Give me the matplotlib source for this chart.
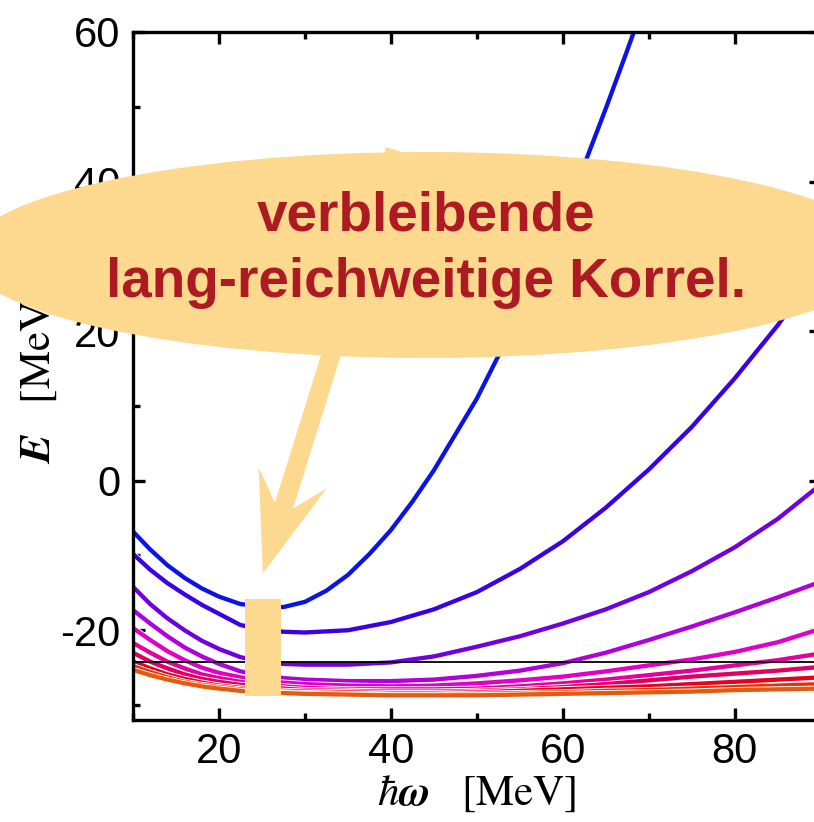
import numpy as np
import matplotlib
matplotlib.use('Agg')
import matplotlib.pyplot as plt
import matplotlib.patheffects as pe
from matplotlib.patches import Ellipse, Rectangle, FancyArrow
from matplotlib.ticker import MultipleLocator

plt.rcParams['font.family'] = ['Liberation Sans', 'DejaVu Sans']
plt.rcParams['mathtext.fontset'] = 'stix'
plt.rcParams['axes.unicode_minus'] = False

# hbar*omega grid (MeV)
hw = [10, 12, 14, 16, 18, 20, 22.5, 25, 27.5, 30, 35, 40, 45, 50, 55, 60, 65, 70, 75, 80, 85, 90]
# finer grid for the steep blue curve
hw1 = [10, 12, 14, 16, 18, 20, 22.5, 25, 27.5, 30, 32.5, 35, 37.5, 40, 42.5, 45, 47.5, 50,
       52.5, 55, 57.5, 60, 62.5, 65, 67.5, 70]

# energies (MeV), one list per curve, from top (blue) to bottom (orange)
E1 = [-6.8, -9.2, -11.3, -13.0, -14.4, -15.5, -16.5, -16.8, -16.9, -16.2, -14.7, -12.6, -9.8, -6.6,
      -2.8, 1.4, 6.2, 11.0, 16.7, 22.4, 28.8, 35.3, 42.3, 49.8, 57.6, 65.6]
E2 = [-9.8, -11.9, -13.7, -15.2, -16.6, -17.8, -19.3, -19.9, -20.2, -20.3, -20.0, -18.9, -17.2, -14.9, -11.8, -8.1, -3.6, 1.5, 7.2, 13.7, 20.8, 28.8]
E3 = [-14.2, -16.5, -18.4, -20.0, -21.4, -22.5, -23.6, -24.2, -24.5, -24.6, -24.6, -24.3, -23.5, -22.2, -20.8, -19.1, -17.2, -14.9, -12.1, -8.9, -5.1, -0.5]
E4 = [-17.3, -19.1, -20.8, -22.3, -23.5, -24.5, -25.5, -26.0, -26.4, -26.6, -26.8, -26.8, -26.6, -26.1, -25.4, -24.4, -23.0, -21.3, -19.5, -17.6, -15.6, -13.5]
E5 = [-19.7, -21.3, -22.8, -24.0, -25.0, -25.7, -26.3, -26.7, -27.0, -27.2, -27.4, -27.5, -27.4, -27.1, -26.7, -26.2, -25.5, -24.7, -23.9, -22.9, -21.6, -19.8]
E6 = [-21.7, -23.0, -24.2, -25.1, -25.9, -26.4, -26.9, -27.3, -27.5, -27.7, -27.9, -27.9, -27.9, -27.8, -27.5, -27.1, -26.6, -26.0, -25.4, -24.7, -24.0, -23.1]
E7 = [-23.0, -24.2, -25.1, -25.9, -26.5, -26.9, -27.3, -27.6, -27.8, -28.0, -28.1, -28.2, -28.2, -28.1, -27.9, -27.6, -27.2, -26.7, -26.2, -25.8, -25.4, -24.9]
E8 = [-24.2, -25.1, -25.9, -26.5, -27.0, -27.4, -27.7, -27.9, -28.1, -28.2, -28.3, -28.4, -28.4, -28.3, -28.1, -27.9, -27.7, -27.5, -27.2, -26.9, -26.6, -26.3]
E9 = [-24.8, -25.6, -26.3, -26.9, -27.3, -27.6, -27.9, -28.1, -28.3, -28.4, -28.5, -28.6, -28.6, -28.5, -28.4, -28.3, -28.1, -28.0, -27.8, -27.6, -27.4, -27.2]
E10 = [-25.3, -26.0, -26.6, -27.1, -27.5, -27.8, -28.1, -28.3, -28.4, -28.5, -28.6, -28.7, -28.7, -28.7, -28.6, -28.5, -28.4, -28.3, -28.2, -28.0, -27.9, -27.8]

curves = [(hw1, E1), (hw, E2), (hw, E3), (hw, E4), (hw, E5),
          (hw, E6), (hw, E7), (hw, E8), (hw, E9), (hw, E10)]
colors = ['#0a14e6', '#3a00e6', '#7000e0', '#b000dc', '#e000c8',
          '#e4009c', '#e00060', '#e80020', '#e83000', '#e65a10']

E_ref = -24.3          # horizontal reference line
peach = '#fdd88f'
textcol = '#ad1a22'

fig = plt.figure(figsize=(8.14, 8.22), dpi=100)
ax = fig.add_axes([0.1634, 0.1241, 0.845, 0.837])

for (x, E), c in zip(curves, colors):
    ax.plot(x, E, color=c, lw=3.1, solid_capstyle='round', solid_joinstyle='round',
            path_effects=[pe.Stroke(linewidth=4.4, foreground='white'), pe.Normal()])

ax.axhline(E_ref, color='black', lw=1.3, zorder=3)

# highlight box
ax.add_patch(Rectangle((23.0, -28.8), 4.2, 13.0, color=peach, zorder=5, lw=0))

ax.set_xlim(10, 90)
ax.set_ylim(-32, 60)
ax.xaxis.set_major_locator(MultipleLocator(20))
ax.xaxis.set_minor_locator(MultipleLocator(10))
ax.yaxis.set_major_locator(MultipleLocator(20))
ax.yaxis.set_minor_locator(MultipleLocator(10))
ax.tick_params(which='both', direction='in', top=True, right=True, width=2.4,
               labelsize=30, pad=9)
ax.tick_params(which='major', length=8.5)
ax.tick_params(which='minor', length=5)
for s in ax.spines.values():
    s.set_linewidth(2.4)

ax.set_xlabel(r'$\hbar\mathbfit{\omega}\ \ \ [\mathrm{MeV}]$', fontsize=31)
ax.set_ylabel(r'$\mathbfit{E}\ \ \ [\mathrm{MeV}]$', fontsize=31)
ax.xaxis.set_label_coords(0.5, -0.078)
ax.yaxis.set_label_coords(-0.108, 0.5)

# arrow (beneath the bubble), pointing at the highlighted region
tip = fig.dpi_scale_trans.inverted().transform(ax.transData.transform((25.1, -12.4)))
tail = np.array([3.95, 6.72])
arr = FancyArrow(tail[0], tail[1], tip[0] - tail[0], tip[1] - tail[1],
                 width=0.19, head_width=0.71, head_length=1.0, overhang=0.29,
                 length_includes_head=True, color=peach, lw=0,
                 transform=fig.dpi_scale_trans, zorder=4)
fig.add_artist(arr)

bubble = Ellipse((0.5233, 0.6898), 1.128, 0.2506, color=peach, lw=0,
                 transform=fig.transFigure, zorder=5)
fig.add_artist(bubble)

fig.text(0.5233, 0.720, 'verbleibende', ha='center', va='baseline',
         fontsize=39.5, fontweight='bold', color=textcol, zorder=6)
fig.text(0.5233, 0.639, 'lang-reichweitige Korrel.', ha='center', va='baseline',
         fontsize=39.5, fontweight='bold', color=textcol, zorder=6)

fig.savefig('out.png', dpi=100)
